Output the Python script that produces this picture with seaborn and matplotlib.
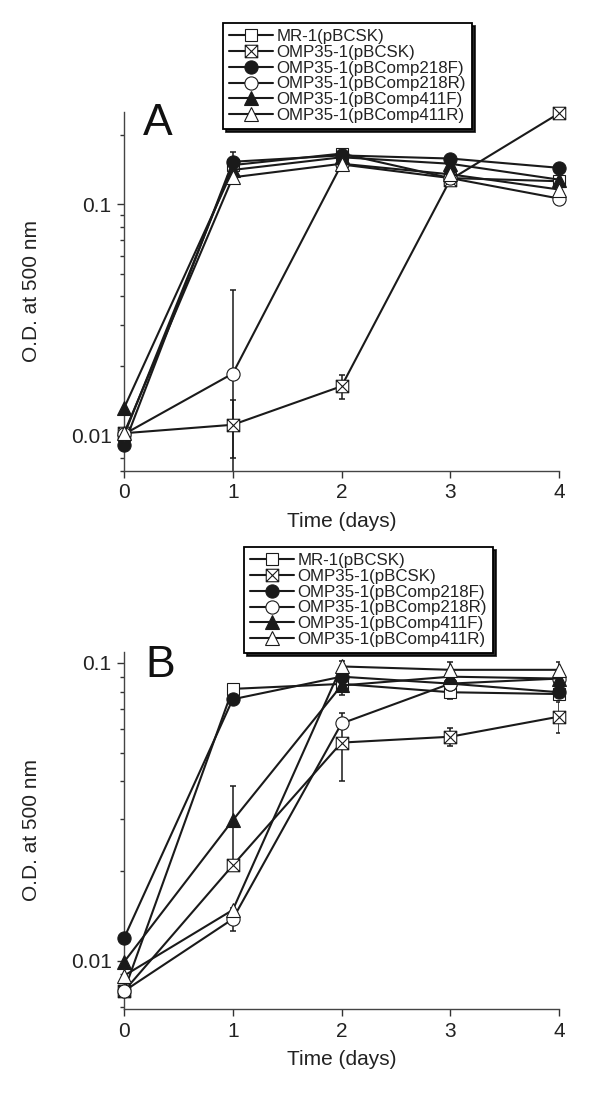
import numpy as np
import matplotlib
matplotlib.use('Agg')
import matplotlib.pyplot as plt
import seaborn as sns
from matplotlib.path import Path
from matplotlib.ticker import LogLocator, NullFormatter

days = [0, 1, 2, 3, 4]
strains = ['MR-1(pBCSK)', 'OMP35-1(pBCSK)', 'OMP35-1(pBComp218F)',
           'OMP35-1(pBComp218R)', 'OMP35-1(pBComp411F)', 'OMP35-1(pBComp411R)']

# panel A - O.D. values
a_mr1 = [0.0100, 0.148, 0.166, 0.130, 0.126]
a_bcsk = [0.0102, 0.0111, 0.0163, 0.128, 0.248]
a_218f = [0.0091, 0.153, 0.163, 0.158, 0.144]
a_218r = [0.0101, 0.0185, 0.149, 0.130, 0.106]
a_411f = [0.0131, 0.141, 0.160, 0.150, 0.128]
a_411r = [0.0102, 0.131, 0.150, 0.135, 0.116]

a_mr1_err = [0, 0, 0, 0, 0]
a_bcsk_err = [0, 0.0031, 0.0019, 0, 0]
a_218f_err = [0, 0.015, 0, 0, 0]
a_218r_err = [0, 0.024, 0, 0, 0.005]
a_411f_err = [0, 0, 0, 0, 0]
a_411r_err = [0, 0, 0, 0, 0]

# panel B
b_mr1 = [0.0079, 0.0818, 0.0850, 0.0797, 0.0786]
b_bcsk = [0.0079, 0.0209, 0.0540, 0.0565, 0.0660]
b_218f = [0.0119, 0.0755, 0.0899, 0.0852, 0.0797]
b_218r = [0.0079, 0.0138, 0.0626, 0.0852, 0.0886]
b_411f = [0.0099, 0.0296, 0.0840, 0.0899, 0.0886]
b_411r = [0.0089, 0.0148, 0.0973, 0.0948, 0.0948]

b_mr1_err = [0, 0, 0, 0.004, 0.003]
b_bcsk_err = [0, 0, 0.014, 0.004, 0.008]
b_218f_err = [0, 0, 0, 0, 0]
b_218r_err = [0, 0.0012, 0, 0, 0]
b_411f_err = [0, 0.009, 0.006, 0, 0]
b_411r_err = [0, 0, 0.004, 0.006, 0.006]

sns.set_theme(style='ticks')
plt.rcParams['font.family'] = ['Liberation Sans', 'DejaVu Sans']

ink = '#1a1a1a'

# square with an X inside
xsq = Path([(-1, -1), (1, -1), (1, 1), (-1, 1), (-1, -1),
            (-1, -1), (1, 1), (-1, 1), (1, -1)],
           [Path.MOVETO, Path.LINETO, Path.LINETO, Path.LINETO, Path.CLOSEPOLY,
            Path.MOVETO, Path.LINETO, Path.MOVETO, Path.LINETO])

styles = [
    dict(marker='s', markerfacecolor='white', markersize=9),
    dict(marker=xsq, markerfacecolor='white', markersize=9),
    dict(marker='o', markerfacecolor=ink, markersize=9.5),
    dict(marker='o', markerfacecolor='white', markersize=9.5),
    dict(marker='^', markerfacecolor=ink, markersize=9.5),
    dict(marker='^', markerfacecolor='white', markersize=9.5),
]

fig = plt.figure(figsize=(6, 11.03), dpi=100)
ax_a = fig.add_axes([0.2067, 0.5730, 0.725, 0.3257])
ax_b = fig.add_axes([0.2067, 0.0852, 0.725, 0.3239])


def draw_panel(ax, series, errors, ylim, legend_xy, letter, letter_xy):
    ax.set_yscale('log')
    for name, vals, err, st in zip(strains, series, errors, styles):
        ax.errorbar(days, vals, yerr=err, fmt='none', ecolor=ink,
                    elinewidth=1.1, capsize=2.5, capthick=1.1, zorder=2)
        sns.lineplot(x=days, y=vals, ax=ax, color=ink, linewidth=1.5,
                     markeredgecolor=ink, markeredgewidth=0.8,
                     label=name, clip_on=False, zorder=3, **st)
    ax.set_xlim(0, 4)
    ax.set_ylim(*ylim)
    ax.set_xticks(days)
    ax.set_yticks([0.01, 0.1], labels=['0.01', '0.1'])
    ax.yaxis.set_minor_locator(LogLocator(base=10, subs=np.arange(2, 10)))
    ax.yaxis.set_minor_formatter(NullFormatter())
    ax.tick_params(axis='both', which='major', labelsize=15, length=5,
                   width=1, color='#333', labelcolor='#222', pad=4)
    ax.tick_params(axis='y', which='minor', length=3, width=1, color='#333')
    sns.despine(ax=ax)
    for s in ['left', 'bottom']:
        ax.spines[s].set_color('#444')
        ax.spines[s].set_linewidth(1)
    ax.set_xlabel('Time (days)', fontsize=15, color='#222')
    ax.set_ylabel('O.D. at 500 nm', fontsize=15, color='#222')
    ax.xaxis.set_label_coords(0.5, -0.115)
    ax.yaxis.set_label_coords(-0.19, 0.5)
    leg = ax.legend(loc='upper left', bbox_to_anchor=legend_xy,
                    bbox_transform=fig.transFigure, borderaxespad=0,
                    fontsize=12.2, labelspacing=0.05, handlelength=2.6,
                    handletextpad=0.2, borderpad=0.35, frameon=True,
                    fancybox=False, shadow={'color': 'black', 'alpha': 0.85},
                    numpoints=1)
    leg.get_frame().set_edgecolor('black')
    leg.get_frame().set_linewidth(1.3)
    for t in leg.get_texts():
        t.set_color('#222')
    fig.text(letter_xy[0], letter_xy[1], letter, fontsize=32,
             va='baseline', ha='left', color='#111')


draw_panel(ax_a,
           [a_mr1, a_bcsk, a_218f, a_218r, a_411f, a_411r],
           [a_mr1_err, a_bcsk_err, a_218f_err, a_218r_err, a_411f_err, a_411r_err],
           (0.0070, 0.252), (223 / 600, 1 - 23 / 1103), 'A', (0.238, 1 - 135 / 1103))
draw_panel(ax_b,
           [b_mr1, b_bcsk, b_218f, b_218r, b_411f, b_411r],
           [b_mr1_err, b_bcsk_err, b_218f_err, b_218r_err, b_411f_err, b_411r_err],
           (0.00688, 0.109), (244 / 600, 1 - 547 / 1103), 'B', (0.2417, 1 - 677 / 1103))

fig.savefig('out.png', dpi=100)
